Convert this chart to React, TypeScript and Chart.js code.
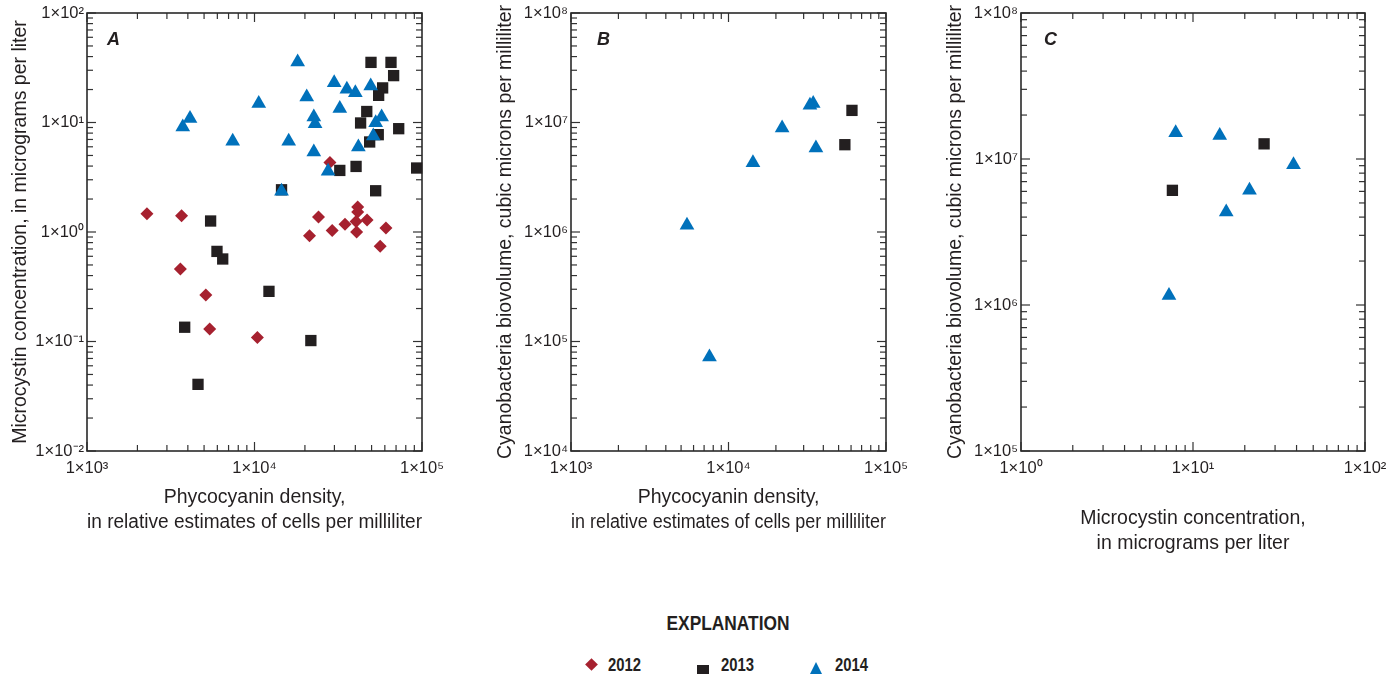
import React, { useEffect, useRef } from 'react';
import { Chart, registerables } from 'chart.js';

Chart.register(...registerables);

// ---------- colours ----------
const COLOR_2012 = '#a6212f';
const COLOR_2013 = '#231f20';
const COLOR_2014 = '#0071bb';
const INK = '#231f20';
const FAMILY = "'Liberation Sans', Arial, sans-serif";

// ---------- Panel A: phycocyanin density vs microcystin ----------
const A_2012_X = [2280, 3670, 3610, 5120, 5400, 10400, 21300, 24100, 29100, 28200, 34700, 40400, 40700, 41300, 41300, 47000, 60900, 56300];
const A_2012_Y = [1.47, 1.41, 0.46, 0.266, 0.13, 0.109, 0.925, 1.37, 1.03, 4.32, 1.18, 1.25, 1.0, 1.69, 1.52, 1.29, 1.09, 0.74];

const A_2013_X = [49600, 65300, 67700, 58200, 55100, 46800, 43000, 72600, 54800, 48700, 40400, 32300, 92900, 52900, 14500, 5470, 5970, 6460, 12200, 3830, 21700, 4600];
const A_2013_Y = [35.4, 35.4, 26.8, 20.7, 17.7, 12.6, 9.9, 8.78, 7.74, 6.64, 3.97, 3.65, 3.84, 2.38, 2.43, 1.26, 0.665, 0.567, 0.287, 0.135, 0.102, 0.0406];

const A_2014_X = [18100, 3730, 4120, 7410, 10600, 16000, 14500, 20500, 22600, 23000, 22600, 27500, 29900, 32300, 35600, 40000, 41700, 49400, 52900, 57400, 51200];
const A_2014_Y = [35.7, 9.1, 10.9, 6.74, 14.9, 6.74, 2.35, 17.1, 11.2, 9.75, 5.38, 3.58, 23.1, 13.4, 20.1, 18.7, 5.98, 21.5, 9.96, 11.2, 7.53];

// ---------- Panel B: phycocyanin density vs biovolume ----------
const B_2013_X = [54800, 60800];
const B_2013_Y = [6.27e6, 1.29e7];
const B_2014_X = [5450, 7570, 14300, 21900, 32900, 34500, 35900];
const B_2014_Y = [1.15e6, 7.22e4, 4.3e6, 8.9e6, 1.44e7, 1.49e7, 5.85e6];

// ---------- Panel C: microcystin vs biovolume ----------
const C_2013_X = [7.59, 25.9];
const C_2013_Y = [6.1e6, 1.27e7];
const C_2014_X = [7.93, 14.3, 38.4, 21.3, 15.6, 7.25];
const C_2014_Y = [1.51e7, 1.45e7, 9.15e6, 6.1e6, 4.34e6, 1.16e6];

// ---------- ticks ----------
const PC_TICKS = [1e3, 1e4, 1e5];
const PC_LABELS = ['1×10³', '1×10⁴', '1×10⁵'];
const MC_Y_TICKS = [1e-2, 1e-1, 1e0, 1e1, 1e2];
const MC_Y_LABELS = ['1×10⁻²', '1×10⁻¹', '1×10⁰', '1×10¹', '1×10²'];
const BV_B_TICKS = [1e4, 1e5, 1e6, 1e7, 1e8];
const BV_B_LABELS = ['1×10⁴', '1×10⁵', '1×10⁶', '1×10⁷', '1×10⁸'];
const MC_X_TICKS = [1e0, 1e1, 1e2];
const MC_X_LABELS = ['1×10⁰', '1×10¹', '1×10²'];
const BV_C_TICKS = [1e5, 1e6, 1e7, 1e8];
const BV_C_LABELS = ['1×10⁵', '1×10⁶', '1×10⁷', '1×10⁸'];

const X_TITLE_PC = ['Phycocyanin density,', 'in relative estimates of cells per milliliter'];
const X_TITLE_MC = ['Microcystin concentration,', 'in micrograms per liter'];
const Y_TITLE_MC = 'Microcystin concentration, in micrograms per liter';
const Y_TITLE_BV = 'Cyanobacteria biovolume, cubic microns per milliliter';

const YEARS = ['2012', '2013', '2014'];

const pts = (xs: number[], ys: number[]) => xs.map((x, i) => ({ x, y: ys[i] }));

const framePlugin = {
  id: 'frame',
  beforeDatasetsDraw(chart: any) {
    const { ctx, chartArea } = chart;
    const { left, right, top, bottom } = chartArea;
    const xs = chart.scales.x;
    const ys = chart.scales.y;
    ctx.save();
    ctx.strokeStyle = '#333';
    ctx.lineWidth = 1.2;
    const seg = (x1: number, y1: number, x2: number, y2: number) => {
      ctx.beginPath();
      ctx.moveTo(x1, y1);
      ctx.lineTo(x2, y2);
      ctx.stroke();
    };
    const each = (scale: any, fn: (p: number, len: number) => void) => {
      const e0 = Math.floor(Math.log10(scale.min));
      const e1 = Math.ceil(Math.log10(scale.max));
      for (let e = e0; e <= e1; e++) {
        for (let m = 1; m <= 9; m++) {
          const v = m * Math.pow(10, e);
          if (v < scale.min * 0.999 || v > scale.max * 1.001) continue;
          fn(scale.getPixelForValue(v), m === 1 ? 9 : 6);
        }
      }
    };
    each(xs, (p, len) => {
      seg(p, bottom, p, bottom - len);
      seg(p, top, p, top + len);
    });
    each(ys, (p, len) => {
      seg(left, p, left + len, p);
      seg(right, p, right - len, p);
    });
    ctx.lineWidth = 1.6;
    ctx.strokeStyle = '#2a2a2a';
    ctx.strokeRect(left, top, right - left, bottom - top);
    ctx.restore();
  },
  afterDraw(chart: any, _args: any, opts: any) {
    if (!opts || !opts.letter) return;
    const { ctx, chartArea } = chart;
    ctx.save();
    ctx.fillStyle = INK;
    ctx.font = `italic bold 18px ${FAMILY}`;
    ctx.textAlign = 'left';
    ctx.textBaseline = 'alphabetic';
    ctx.fillText(opts.letter, chartArea.left + opts.dx, chartArea.top + 32);
    ctx.restore();
  },
};

function logAxis(cfg: any) {
  const horizontal = cfg.position === 'bottom';
  return {
    type: 'logarithmic',
    position: cfg.position,
    min: cfg.ticks[0],
    max: cfg.ticks[cfg.ticks.length - 1],
    grid: { display: false, drawTicks: false },
    border: { display: false },
    afterBuildTicks: (s: any) => {
      s.ticks = cfg.ticks.map((v: number) => ({ value: v }));
    },
    afterFit: (s: any) => {
      if (horizontal) s.height = cfg.size;
      else s.width = cfg.size;
      s.paddingLeft = 0;
      s.paddingRight = 0;
      s.paddingTop = 0;
      s.paddingBottom = 0;
    },
    ticks: {
      autoSkip: false,
      maxRotation: 0,
      minRotation: 0,
      padding: cfg.tickPad,
      color: INK,
      font: { family: FAMILY, size: 16.5 },
      callback: (_v: any, i: number) => cfg.labels[i],
    },
    title: {
      display: true,
      text: cfg.title,
      color: INK,
      font: { family: FAMILY, size: 19.5, lineHeight: 1.282 },
      padding: cfg.titlePad,
    },
  };
}

function makeDatasets(d2012: any[] | null, d2013: any[], d2014: any[]) {
  const sets: any[] = [];
  if (d2012) {
    sets.push({
      label: YEARS[0], data: d2012, pointStyle: 'rectRot', pointRadius: 6.5,
      backgroundColor: COLOR_2012, borderWidth: 0, showLine: false, clip: false, order: 2,
    });
  }
  sets.push({
    label: YEARS[1], data: d2013, pointStyle: 'rect', pointRadius: 8,
    backgroundColor: COLOR_2013, borderWidth: 0, showLine: false, clip: false, order: 1,
  });
  sets.push({
    label: YEARS[2], data: d2014, pointStyle: 'triangle', pointRadius: 8.5,
    backgroundColor: COLOR_2014, borderWidth: 0, showLine: false, clip: false, order: 0,
  });
  return sets;
}

function makeConfig(p: any) {
  return {
    type: 'scatter',
    data: { datasets: p.datasets },
    options: {
      responsive: false,
      animation: false,
      devicePixelRatio: 1,
      events: [],
      layout: { padding: { top: 13, right: p.padRight, left: 0, bottom: 0 } },
      plugins: {
        legend: { display: false },
        tooltip: { enabled: false },
        frame: { letter: p.letter, dx: p.letterDx },
      },
      scales: {
        x: logAxis(p.x),
        y: logAxis(p.y),
      },
    },
    plugins: [framePlugin],
  };
}

const PANELS = [
  {
    left: 0, width: 450, padRight: 28, letter: 'A', letterDx: 20,
    datasets: makeDatasets(pts(A_2012_X, A_2012_Y), pts(A_2013_X, A_2013_Y), pts(A_2014_X, A_2014_Y)),
    x: { position: 'bottom', ticks: PC_TICKS, labels: PC_LABELS, size: 109, tickPad: 8, title: X_TITLE_PC, titlePad: { top: 0, bottom: 25 } },
    y: { position: 'left', ticks: MC_Y_TICKS, labels: MC_Y_LABELS, size: 87, tickPad: 3, title: Y_TITLE_MC, titlePad: { top: 8, bottom: 0 } },
  },
  {
    left: 460, width: 450, padRight: 24, letter: 'B', letterDx: 26,
    datasets: makeDatasets(null, pts(B_2013_X, B_2013_Y), pts(B_2014_X, B_2014_Y)),
    x: { position: 'bottom', ticks: PC_TICKS, labels: PC_LABELS, size: 109, tickPad: 8, title: X_TITLE_PC, titlePad: { top: 0, bottom: 25 } },
    y: { position: 'left', ticks: BV_B_TICKS, labels: BV_B_LABELS, size: 111, tickPad: 3, title: Y_TITLE_BV, titlePad: { top: 33, bottom: 0 } },
  },
  {
    left: 910, width: 490, padRight: 35, letter: 'C', letterDx: 23,
    datasets: makeDatasets(null, pts(C_2013_X, C_2013_Y), pts(C_2014_X, C_2014_Y)),
    x: { position: 'bottom', ticks: MC_X_TICKS, labels: MC_X_LABELS, size: 109, tickPad: 8, title: X_TITLE_MC, titlePad: { top: 0, bottom: 4 } },
    y: { position: 'left', ticks: BV_C_TICKS, labels: BV_C_LABELS, size: 111, tickPad: 3, title: Y_TITLE_BV, titlePad: { top: 33, bottom: 0 } },
  },
];

const CANVAS_H = 560;

export default function App() {
  const refs = [useRef<HTMLCanvasElement>(null), useRef<HTMLCanvasElement>(null), useRef<HTMLCanvasElement>(null)];

  useEffect(() => {
    const charts = PANELS.map((p, i) => new Chart(refs[i].current as HTMLCanvasElement, makeConfig(p) as any));
    return () => charts.forEach((c) => c.destroy());
  }, []);

  const legendText: React.CSSProperties = {
    position: 'absolute', top: 656, font: `bold 18px ${FAMILY}`, lineHeight: '18px', color: INK,
    whiteSpace: 'nowrap', transform: 'scaleX(0.825)', transformOrigin: 'left center',
  };

  return (
    <div style={{ position: 'fixed', left: 0, top: 0, width: 1400, height: 674, overflow: 'hidden', background: '#fff' }}>
      {PANELS.map((p, i) => (
        <canvas
          key={i}
          ref={refs[i]}
          width={p.width}
          height={CANVAS_H}
          style={{ position: 'absolute', left: p.left, top: 0, width: p.width, height: CANVAS_H }}
        />
      ))}
      <div style={{ position: 'absolute', left: 578, top: 612, width: 300, textAlign: 'center', font: `bold 21px ${FAMILY}`, lineHeight: '21px', color: INK, transform: 'scaleX(0.825)', transformOrigin: 'center center' }}>
        EXPLANATION
      </div>
      <div style={{ position: 'absolute', left: 586.5, top: 659.5, width: 9, height: 9, background: COLOR_2012, transform: 'rotate(45deg)' }} />
      <div style={{ ...legendText, left: 608 }}>{YEARS[0]}</div>
      <div style={{ position: 'absolute', left: 697, top: 665, width: 12, height: 12, background: COLOR_2013 }} />
      <div style={{ ...legendText, left: 721 }}>{YEARS[1]}</div>
      <div style={{ position: 'absolute', left: 810, top: 661.5, width: 0, height: 0, borderLeft: '6.7px solid transparent', borderRight: '6.7px solid transparent', borderBottom: `12.5px solid ${COLOR_2014}` }} />
      <div style={{ ...legendText, left: 835 }}>{YEARS[2]}</div>
    </div>
  );
}
